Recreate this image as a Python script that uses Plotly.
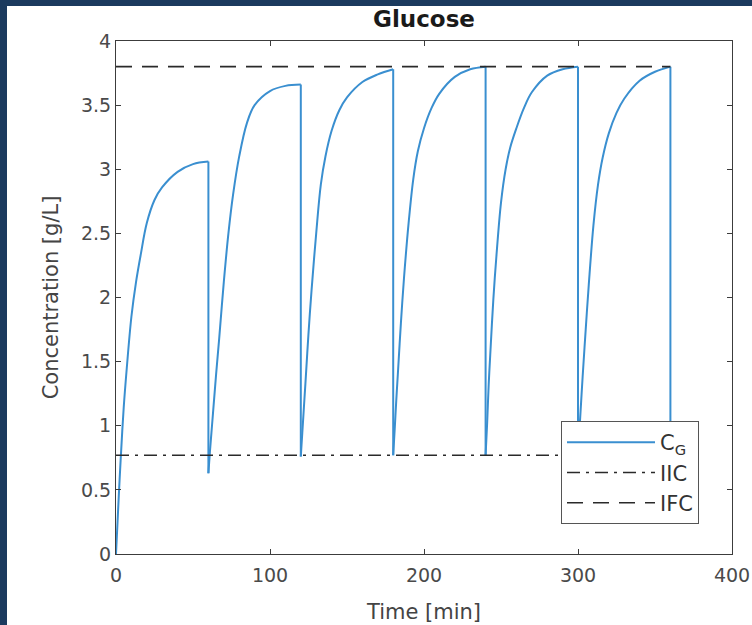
import plotly.graph_objects as go

# ---- data ----
cycle_starts = [0, 60, 120, 180, 240, 300]
offsets = [0, 1, 2, 3, 5, 7, 10, 13, 16, 20, 25, 30, 40, 50, 60]
cycle1 = [0.00, 0.25, 0.50, 0.73, 1.14, 1.45, 1.85, 2.12, 2.33, 2.58, 2.76, 2.86, 2.98, 3.04, 3.06]
cycle2 = [0.63, 0.80, 0.95, 1.10, 1.40, 1.68, 2.12, 2.50, 2.80, 3.10, 3.36, 3.50, 3.61, 3.65, 3.66]
cycle3 = [0.76, 0.95, 1.14, 1.33, 1.72, 2.06, 2.50, 2.88, 3.10, 3.30, 3.46, 3.56, 3.68, 3.74, 3.78]
cycle4 = [0.77, 0.98, 1.20, 1.40, 1.80, 2.15, 2.58, 2.92, 3.14, 3.32, 3.48, 3.59, 3.72, 3.78, 3.80]
cycle5 = [0.77, 1.02, 1.32, 1.55, 1.98, 2.32, 2.74, 3.00, 3.17, 3.32, 3.48, 3.60, 3.73, 3.78, 3.80]
cycle6 = [0.77, 0.98, 1.18, 1.38, 1.75, 2.10, 2.56, 2.88, 3.09, 3.28, 3.44, 3.55, 3.69, 3.76, 3.80]
end_time = 360
end_value = 0.77

iic_value = 0.77
ifc_value = 3.8
ref_times = [0, 360]

x_ticks = [0, 100, 200, 300, 400]
y_ticks = [0, 0.5, 1, 1.5, 2, 2.5, 3, 3.5, 4]

cycles = [cycle1, cycle2, cycle3, cycle4, cycle5, cycle6]

W, H = 752, 625
L, R, T, B = 116, 20, 41, 71
pw, ph = W - L - R, H - T - B

font_family = "DejaVu Sans, Verdana, sans-serif"
blue = "#3a8fd0"

fig = go.Figure()

# rising part of each cycle (smooth)
for i, (start, vals) in enumerate(zip(cycle_starts, cycles)):
    fig.add_trace(go.Scatter(
        x=[start + o for o in offsets], y=vals, mode="lines",
        name="C<sub>G</sub>", legendgroup="cg", showlegend=(i == 0),
        line=dict(color=blue, width=2, shape="spline", smoothing=1.0)))

# vertical drops between cycles
drop_x, drop_y = [], []
next_starts = [cycles[k + 1][0] for k in range(len(cycles) - 1)] + [end_value]
for start, vals, nxt in zip(cycle_starts, cycles, next_starts):
    t_end = start + offsets[-1]
    drop_x += [t_end, t_end, None]
    drop_y += [vals[-1], nxt, None]
fig.add_trace(go.Scatter(x=drop_x, y=drop_y, mode="lines", legendgroup="cg",
                         showlegend=False, line=dict(color=blue, width=2)))

fig.add_trace(go.Scatter(x=ref_times, y=[iic_value] * len(ref_times), mode="lines", name="IIC",
                         line=dict(color="#2a2a2a", width=1.6, dash="13px,6px,3px,6px")))
fig.add_trace(go.Scatter(x=ref_times, y=[ifc_value] * len(ref_times), mode="lines", name="IFC",
                         line=dict(color="#2a2a2a", width=1.6, dash="16px,10px")))

axis_common = dict(showline=True, linecolor="#3c3c3c", linewidth=1, mirror="allticks",
                   ticks="inside", ticklen=5, tickcolor="#3c3c3c", showgrid=False,
                   zeroline=False, tickfont=dict(size=19, color="#4a4a4a", family=font_family))

fig.update_layout(
    width=W, height=H,
    margin=dict(l=L, r=R, t=T, b=B, autoexpand=False),
    paper_bgcolor="#1b3a5e",
    plot_bgcolor="white",
    font=dict(family=font_family, color="#333333"),
    title=dict(text="<b>Glucose</b>", x=(L + pw / 2) / W, xanchor="center",
               y=1 - 19 / H, yanchor="middle", yref="container",
               font=dict(size=23, color="#1a1a1a", family=font_family)),
    xaxis=dict(range=[0, 400], tickvals=x_ticks,
               title=dict(text="Time [min]", font=dict(size=21, color="#444444"), standoff=19),
               ticklabelstandoff=4, **axis_common),
    yaxis=dict(range=[0, 4], tickvals=y_ticks,
               title=dict(text="Concentration [g/L]", font=dict(size=21, color="#444444"), standoff=16),
               ticklabelstandoff=0, **axis_common),
    legend=dict(x=(561 - L) / pw, y=(554 - 421) / ph, xanchor="left", yanchor="top",
                bgcolor="white", bordercolor="#555555", borderwidth=1,
                font=dict(size=21, color="#333333", family=font_family),
                itemwidth=88, tracegroupgap=0),
    showlegend=True,
    shapes=[dict(type="rect", xref="paper", yref="paper", layer="below",
                 x0=(7 - L) / pw, x1=(W + 5 - L) / pw,
                 y0=(T + ph - H - 5) / ph, y1=(T + ph - 6) / ph,
                 fillcolor="white", line=dict(width=0))],
)

fig.write_html("out.html", config={"displayModeBar": False},
               post_script="document.body.style.margin='0px';")
